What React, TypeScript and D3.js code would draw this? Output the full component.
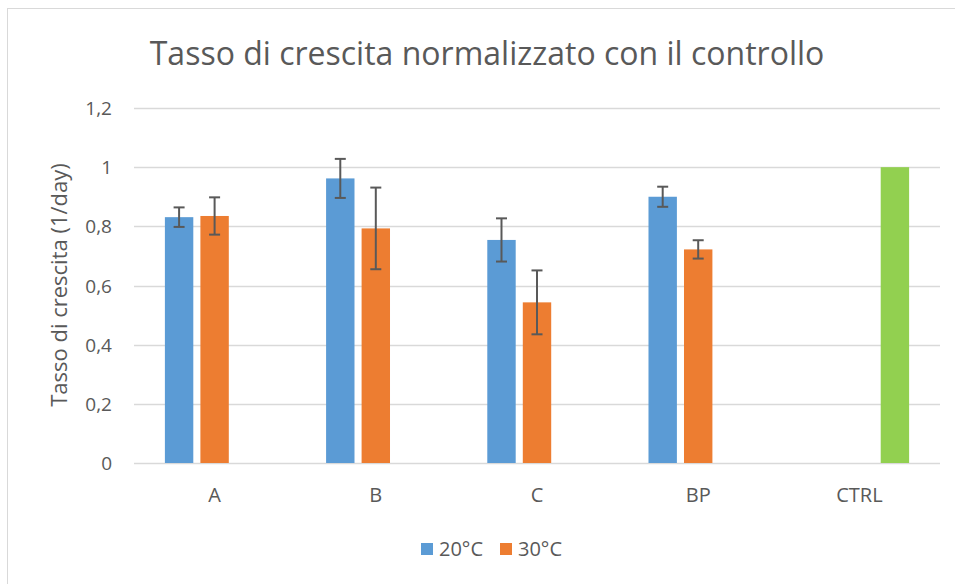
import React, { useEffect, useRef } from "react";
import * as d3 from "d3";

const categories = ["A", "B", "C", "BP", "CTRL"];
const seriesNames = ["20°C", "30°C", "CTRL"];
const values20 = [0.831, 0.962, 0.754, 0.9, null];
const err20 = [0.033, 0.066, 0.073, 0.034, null];
const values30 = [0.835, 0.793, 0.543, 0.722, null];
const err30 = [0.063, 0.138, 0.108, 0.031, null];
const valuesCtrl = [null, null, null, null, 1.0];
const yTicks = [0, 0.2, 0.4, 0.6, 0.8, 1, 1.2];
const legendItems = ["20°C", "30°C"];

const colors = ["#5B9BD5", "#ED7D31", "#92D050"];
const FONT = "'Open Sans', 'Noto Sans', sans-serif";
const TEXT = "#595959";

const App = () => {
  const ref = useRef<SVGSVGElement>(null);

  useEffect(() => {
    const width = 955;
    const height = 584;
    const m = { left: 134, right: 15, top: 108, bottom: 121 };

    const svg = d3.select(ref.current);
    svg.selectAll("*").remove();

    // chart area border
    svg
      .append("rect")
      .attr("x", 7.5)
      .attr("y", 8.5)
      .attr("width", 1000)
      .attr("height", 1000)
      .attr("fill", "#fff")
      .attr("stroke", "#D9D9D9");

    const x = d3
      .scaleBand()
      .domain(categories)
      .range([m.left, width - m.right])
      .padding(0);
    const xs = d3
      .scaleBand()
      .domain(seriesNames)
      .range([0, x.bandwidth()])
      .paddingInner(0.2)
      .paddingOuter(0.87);
    const y = d3.scaleLinear().domain([0, 1.2]).range([height - m.bottom, m.top]);

    // gridlines
    svg
      .append("g")
      .selectAll("line")
      .data(yTicks)
      .enter()
      .append("line")
      .attr("x1", m.left)
      .attr("x2", width - m.right)
      .attr("y1", (d) => Math.round(y(d)) + 0.5)
      .attr("y2", (d) => Math.round(y(d)) + 0.5)
      .attr("stroke", "#D9D9D9")
      .attr("stroke-width", 1.5);

    // y tick labels
    svg
      .append("g")
      .selectAll("text")
      .data(yTicks)
      .enter()
      .append("text")
      .attr("x", 112)
      .attr("y", (d) => y(d) + 7)
      .attr("text-anchor", "end")
      .attr("font-family", FONT)
      .attr("font-size", 19)
      .attr("fill", TEXT)
      .text((d) => String(d).replace(".", ","));

    // category labels
    svg
      .append("g")
      .selectAll("text")
      .data(categories)
      .enter()
      .append("text")
      .attr("x", (d) => (x(d) as number) + x.bandwidth() / 2)
      .attr("y", 502)
      .attr("text-anchor", "middle")
      .attr("font-family", FONT)
      .attr("font-size", 20)
      .attr("fill", TEXT)
      .text((d) => d);

    const series = [
      { name: "20°C", vals: values20, errs: err20 },
      { name: "30°C", vals: values30, errs: err30 },
      { name: "CTRL", vals: valuesCtrl, errs: valuesCtrl.map(() => null) },
    ];

    series.forEach((s, si) => {
      const rows = categories
        .map((c, i) => ({ c, v: s.vals[i], e: s.errs[i] }))
        .filter((r) => r.v != null);
      const g = svg.append("g");
      g.selectAll("rect")
        .data(rows)
        .enter()
        .append("rect")
        .attr("x", (d) => (x(d.c) as number) + (xs(s.name) as number))
        .attr("y", (d) => y(d.v as number))
        .attr("width", xs.bandwidth())
        .attr("height", (d) => y(0) - y(d.v as number))
        .attr("fill", colors[si]);

      const eg = g
        .selectAll("g.err")
        .data(rows.filter((r) => r.e != null))
        .enter()
        .append("g")
        .attr("class", "err")
        .attr("stroke", "#595959")
        .attr("stroke-width", 2);
      const cx = (d: any) => (x(d.c) as number) + (xs(s.name) as number) + xs.bandwidth() / 2;
      eg.append("line")
        .attr("x1", cx)
        .attr("x2", cx)
        .attr("y1", (d) => y((d.v as number) + (d.e as number)))
        .attr("y2", (d) => y((d.v as number) - (d.e as number)));
      [1, -1].forEach((sign) => {
        eg.append("line")
          .attr("x1", (d) => cx(d) - 5.5)
          .attr("x2", (d) => cx(d) + 5.5)
          .attr("y1", (d) => y((d.v as number) + sign * (d.e as number)))
          .attr("y2", (d) => y((d.v as number) + sign * (d.e as number)));
      });
    });

    // title
    svg
      .append("text")
      .attr("x", 487)
      .attr("y", 65)
      .attr("text-anchor", "middle")
      .attr("font-family", FONT)
      .attr("font-size", 32)
      .attr("fill", TEXT)
      .text("Tasso di crescita normalizzato con il controllo");

    // y axis title
    svg
      .append("text")
      .attr("transform", "translate(67,285) rotate(-90)")
      .attr("text-anchor", "middle")
      .attr("font-family", FONT)
      .attr("font-size", 22)
      .attr("fill", TEXT)
      .text("Tasso di crescita (1/day)");

    // legend
    const legend = svg.append("g").attr("transform", "translate(421,543)");
    const items = legend
      .selectAll("g")
      .data(legendItems)
      .enter()
      .append("g")
      .attr("transform", (d, i) => `translate(${i * 79},0)`);
    items
      .append("rect")
      .attr("width", 12)
      .attr("height", 12)
      .attr("fill", (d, i) => colors[i]);
    items
      .append("text")
      .attr("x", 18)
      .attr("y", 12.5)
      .attr("font-family", FONT)
      .attr("font-size", 20)
      .attr("fill", TEXT)
      .text((d) => d);
  }, []);

  return (
    <svg
      ref={ref}
      width={955}
      height={584}
      style={{ position: "absolute", left: 0, top: 0, background: "#fff" }}
    />
  );
};

export default App;
